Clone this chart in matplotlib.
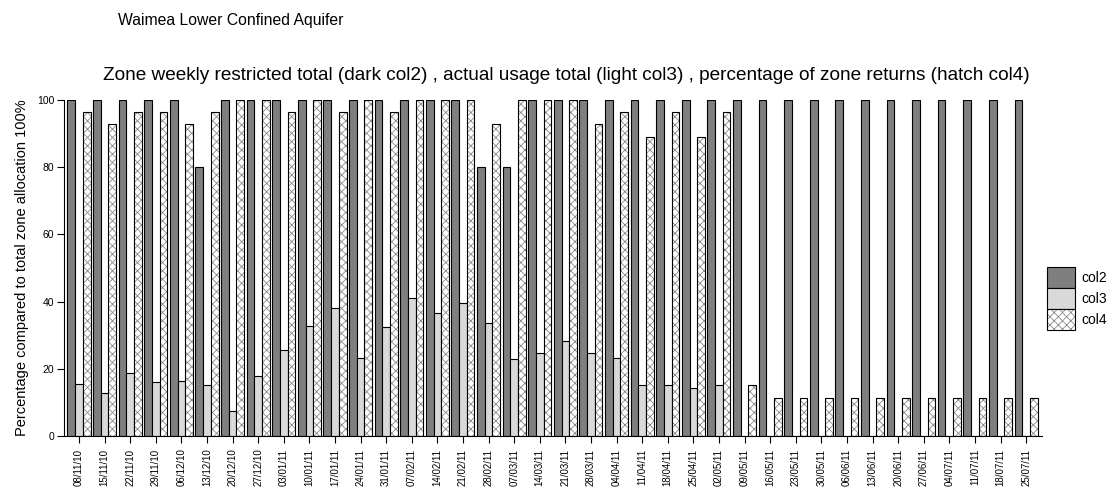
import matplotlib
matplotlib.use("Agg")
import matplotlib.pyplot as plt
from matplotlib.patches import Patch
from matplotlib.legend_handler import HandlerTuple
import numpy as np

plt.rcParams['font.family'] = ['Liberation Sans', 'DejaVu Sans']
plt.rcParams['hatch.linewidth'] = 0.6

dates = ['08/11/10', '15/11/10', '22/11/10', '29/11/10', '06/12/10', '13/12/10',
         '20/12/10', '27/12/10', '03/01/11', '10/01/11', '17/01/11', '24/01/11',
         '31/01/11', '07/02/11', '14/02/11', '21/02/11', '28/02/11', '07/03/11',
         '14/03/11', '21/03/11', '28/03/11', '04/04/11', '11/04/11', '18/04/11',
         '25/04/11', '02/05/11', '09/05/11', '16/05/11', '23/05/11', '30/05/11',
         '06/06/11', '13/06/11', '20/06/11', '27/06/11', '04/07/11', '11/07/11',
         '18/07/11', '25/07/11']

col2 = [100, 100, 100, 100, 100, 80, 100, 100, 100, 100, 100, 100,
        100, 100, 100, 100, 80, 80, 100, 100, 100, 100, 100, 100,
        100, 100, 100, 100, 100, 100, 100, 100, 100, 100, 100, 100,
        100, 100]

col3 = [15.5, 12.9, 18.7, 16.0, 16.3, 15.2, 7.4, 17.9, 25.5, 32.7, 38.2, 23.2,
        32.3, 41.2, 36.5, 39.7, 33.5, 22.8, 24.6, 28.4, 24.6, 23.1, 15.1, 15.1,
        14.2, 15.1, 0, 0, 0, 0, 0, 0, 0, 0, 0, 0,
        0, 0]

col4 = [96.5, 92.9, 96.5, 96.5, 92.9, 96.5, 100, 100, 96.5, 100, 96.5, 100,
        96.5, 100, 100, 100, 92.9, 100, 100, 100, 92.9, 96.5, 89.1, 96.5,
        89.1, 96.5, 15.1, 11.2, 11.2, 11.2, 11.2, 11.2, 11.2, 11.2, 11.2, 11.2,
        11.2, 11.2]

yticks = [0, 20, 40, 60, 80, 100]

dark = '#7f7f7f'
light = '#d9d9d9'
hatch_col = '#8a8a8a'
hatch = 'xxxx'

W, H = 1117, 497
fig = plt.figure(figsize=(W / 100, H / 100), dpi=100)
ax = fig.add_axes([64 / W, (H - 436) / H, (1042 - 64) / W, (436 - 100) / H])

x = np.arange(len(dates))
bw = 0.3
lw = 0.8
ax.bar(x - bw, col2, width=bw, color=dark, edgecolor='black', linewidth=lw, zorder=2)
ax.bar(x, col3, width=bw, color=light, edgecolor='black', linewidth=lw, zorder=2)
ax.bar(x + bw, col4, width=bw, color='white', edgecolor=hatch_col, linewidth=0,
       hatch=hatch, zorder=2)
ax.bar(x + bw, col4, width=bw, fill=False, edgecolor='black', linewidth=lw, zorder=3)

ax.set_xlim(-0.586, 37.62)
ax.set_ylim(0, 100)
ax.set_xticks(x)
ax.set_xticklabels(dates, rotation=90, fontsize=7)
ax.set_yticks(yticks)
ax.set_yticklabels([str(v) for v in yticks], fontsize=7.5)
ax.tick_params(axis='both', length=5, width=0.8, pad=2)
ax.tick_params(axis='x', pad=4)
for s in ['top', 'right']:
    ax.spines[s].set_visible(False)
ax.spines['left'].set_linewidth(0.8)
ax.spines['bottom'].set_linewidth(0.8)

ax.set_ylabel('Percentage compared to total zone allocation 100%', fontsize=10.5,
              labelpad=6)

fig.text(118 / W, 1 - 20 / H, 'Waimea Lower Confined Aquifer', fontsize=11.3,
         ha='left', va='center')
fig.text(566 / W, 1 - 75 / H,
         'Zone weekly restricted total (dark col2) , actual usage total (light col3) , '
         'percentage of zone returns (hatch col4)',
         fontsize=13.7, ha='center', va='center')

h2 = Patch(facecolor=dark, edgecolor='black', linewidth=lw)
h3 = Patch(facecolor=light, edgecolor='black', linewidth=lw)
h4a = Patch(facecolor='white', edgecolor=hatch_col, linewidth=0, hatch=hatch)
h4b = Patch(fill=False, edgecolor='black', linewidth=lw)
fig.legend([h2, h3, (h4a, h4b)], ['col2', 'col3', 'col4'],
           handler_map={tuple: HandlerTuple(ndivide=1, pad=0)},
           loc='upper left', bbox_to_anchor=(1047 / W, 1 - 267 / H),
           frameon=False, fontsize=10, handlelength=2.0, handleheight=1.95,
           labelspacing=0, borderpad=0, borderaxespad=0, handletextpad=0.5)

fig.savefig('out.png', dpi=100)
